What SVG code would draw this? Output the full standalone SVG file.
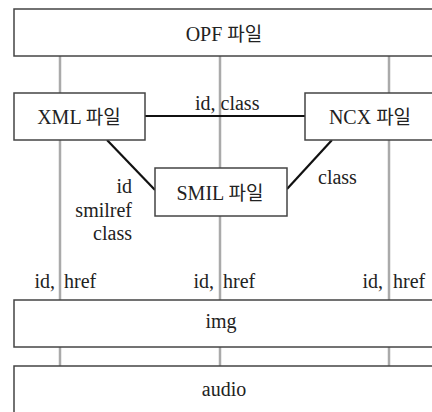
<svg xmlns="http://www.w3.org/2000/svg" width="432" height="412" viewBox="0 0 432 412">
  <style>
    text { font-family: "Liberation Serif", "Times New Roman", Tinos, serif; font-size: 20px; fill: #222; }
    .ko { font-family: "Noto Sans CJK KR", sans-serif; font-size: 19px; }
    .box { fill: #fff; stroke: #444; stroke-width: 1.5; }
    .rail { stroke: #aaa; stroke-width: 2.5; fill: none; }
    .link { stroke: #111; stroke-width: 2.2; fill: none; }
    .mid { text-anchor: middle; }
    .end { text-anchor: end; }
  </style>

  <!-- vertical rails linking the layers -->
  <g id="connectors">
    <path class="rail" d="M60,56 V300 M220,56 V300 M389,56 V300 M60,347 V366 M220,347 V366 M389,347 V366"/>
    <path class="link" d="M145,116 H305"/>
    <path class="link" d="M107,140 L155,190"/>
    <path class="link" d="M287,189 L332,140"/>
    <text x="195" y="110">id, class</text>
    <text class="end" x="132" y="193">id</text>
    <text class="end" x="132" y="217">smilref</text>
    <text class="end" x="132" y="240">class</text>
    <text x="318" y="184">class</text>
    <text class="end" x="55" y="288">id,</text>
    <text x="64" y="288">href</text>
    <text class="end" x="214" y="288">id,</text>
    <text x="223" y="288">href</text>
    <text class="end" x="383" y="288">id,</text>
    <text x="393" y="288">href</text>
  </g>

  <g id="opf">
    <rect class="box" x="14" y="9" width="430" height="47"/>
    <text class="mid" x="224" y="41">OPF <tspan class="ko">파일</tspan></text>
  </g>

  <g id="xml">
    <rect class="box" x="14" y="93" width="131" height="47"/>
    <text class="mid" x="79" y="124">XML <tspan class="ko">파일</tspan></text>
  </g>

  <g id="ncx">
    <rect class="box" x="305" y="93" width="140" height="47"/>
    <text class="mid" x="370" y="124">NCX <tspan class="ko">파일</tspan></text>
  </g>

  <g id="smil">
    <rect class="box" x="155" y="168" width="132" height="48"/>
    <text class="mid" x="220" y="200">SMIL <tspan class="ko">파일</tspan></text>
  </g>

  <g id="img">
    <rect class="box" x="14" y="300" width="430" height="47"/>
    <text class="mid" x="221" y="328">img</text>
  </g>

  <g id="audio">
    <rect class="box" x="14" y="366" width="430" height="60"/>
    <text class="mid" x="224" y="396">audio</text>
  </g>
</svg>
